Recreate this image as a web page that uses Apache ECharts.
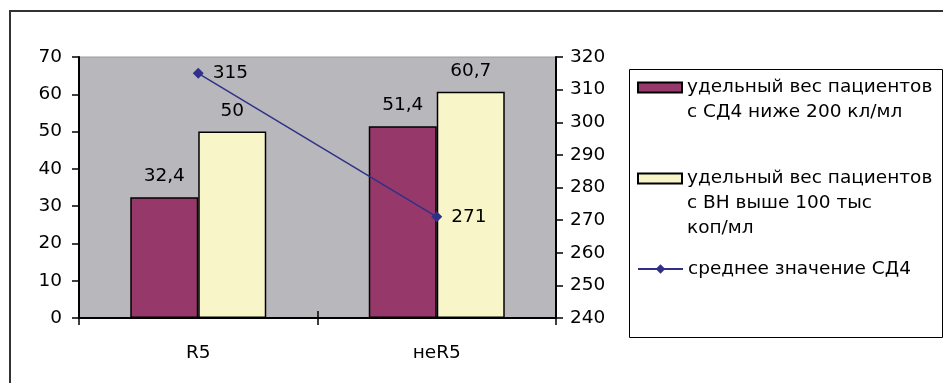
<!DOCTYPE html>
<html>
<head>
<meta charset="utf-8">
<script src="https://cdn.jsdelivr.net/npm/echarts@6/dist/echarts.min.js"></script>
<style>
html,body{margin:0;padding:0;background:#fff;}
#c{width:943px;height:383px;}
</style>
</head>
<body>
<div id="c"></div>
<script>
var categories = ['R5', 'неR5'];
var seriesNames = [
  'удельный вес пациентов с СД4 ниже 200 кл/мл',
  'удельный вес пациентов с ВН выше 100 тыс коп/мл',
  'среднее значение СД4'
];
var legendLines = [
  ['удельный вес пациентов', 'с СД4 ниже 200 кл/мл'],
  ['удельный вес пациентов', 'с ВН выше 100 тыс', 'коп/мл'],
  ['среднее значение СД4']
];
var cd4Below200 = [32.4, 51.4];
var vnAbove100k = [50, 60.7];
var meanCd4 = [315, 271];
var leftTicks = {min: 0, max: 70, interval: 10};
var rightTicks = {min: 240, max: 320, interval: 10};

var FONT = 'DejaVu Sans';
var FS = 18.5;
var LH = 25;
function comma(v) { return String(v).replace('.', ','); }

var chart = echarts.init(document.getElementById('c'));
var axisLineStyle = {color: '#000', width: 2};

function legendFor(i, top, opts) {
  var lines = legendLines[i];
  // prepend empty lines so the first text line is centred on the icon
  var txt = '';
  for (var k = 1; k < lines.length; k++) txt += ' \n';
  txt += lines.join('\n');
  return Object.assign({
    data: [seriesNames[i]],
    left: 637,
    top: top,
    orient: 'vertical',
    padding: 0,
    itemWidth: 44,
    itemHeight: 10,
    selectedMode: false,
    formatter: function () { return txt; },
    textStyle: {fontFamily: FONT, fontSize: FS, color: '#000', lineHeight: LH}
  }, opts || {});
}

chart.setOption({
  animation: false,
  textStyle: {fontFamily: FONT},
  grid: {
    left: 79, right: 387, top: 57, bottom: 65,
    show: true, backgroundColor: '#B8B8BC', borderColor: '#9A9A9E', borderWidth: 1
  },
  graphic: [
    {type: 'rect', shape: {x: 10, y: 11, width: 940, height: 380},
     style: {fill: 'none', stroke: '#333', lineWidth: 2}, silent: true},
    {type: 'rect', shape: {x: 629.5, y: 69.5, width: 313, height: 268},
     style: {fill: 'none', stroke: '#000', lineWidth: 1}, silent: true}
  ],
  legend: [
    legendFor(0, 50, {icon: 'rect'}),
    legendFor(1, 116, {icon: 'rect'}),
    legendFor(2, 256.5, {itemWidth: 45, itemHeight: 12})
  ],
  xAxis: [
    {
      type: 'category', data: categories, position: 'bottom',
      axisLine: {lineStyle: axisLineStyle},
      axisTick: {show: true, length: 7, lineStyle: {color: '#000', width: 1.5}},
      axisLabel: {color: '#000', fontSize: FS, fontFamily: FONT, margin: 26}
    },
    {
      type: 'category', data: categories, position: 'bottom',
      axisLine: {show: false},
      axisTick: {show: true, inside: true, length: 7, lineStyle: {color: '#000', width: 1.5}},
      axisLabel: {show: false}
    }
  ],
  yAxis: [
    {
      type: 'value', position: 'left',
      min: leftTicks.min, max: leftTicks.max, interval: leftTicks.interval,
      axisLine: {show: true, lineStyle: axisLineStyle},
      axisTick: {show: true, length: 7, lineStyle: {color: '#000', width: 1.5}},
      splitLine: {show: false},
      axisLabel: {color: '#000', fontSize: FS, fontFamily: FONT, margin: 17}
    },
    {
      type: 'value', position: 'right',
      min: rightTicks.min, max: rightTicks.max, interval: rightTicks.interval,
      axisLine: {show: true, lineStyle: axisLineStyle},
      axisTick: {show: true, length: 7, lineStyle: {color: '#000', width: 1.5}},
      splitLine: {show: false},
      axisLabel: {color: '#000', fontSize: FS, fontFamily: FONT, margin: 14}
    }
  ],
  series: [
    {
      name: seriesNames[0], type: 'bar', data: cd4Below200,
      xAxisIndex: 0, yAxisIndex: 0, barWidth: 68, barGap: '0%',
      itemStyle: {color: '#96386A', borderColor: '#000', borderWidth: 1.5},
      label: {show: true, position: 'top', distance: 12, color: '#000',
              fontSize: FS, fontFamily: FONT, formatter: function (p) { return comma(p.value); }}
    },
    {
      name: seriesNames[1], type: 'bar', data: vnAbove100k,
      xAxisIndex: 0, yAxisIndex: 0, barWidth: 68, barGap: '0%',
      itemStyle: {color: '#F8F6C8', borderColor: '#000', borderWidth: 1.5},
      label: {show: true, position: 'top', distance: 11, color: '#000',
              fontSize: FS, fontFamily: FONT, formatter: function (p) { return comma(p.value); }}
    },
    {
      name: seriesNames[2], type: 'line', data: meanCd4,
      xAxisIndex: 0, yAxisIndex: 1, z: 5,
      symbol: 'diamond', symbolSize: 11,
      lineStyle: {color: '#303088', width: 1.5},
      itemStyle: {color: '#303088'},
      label: {show: true, position: 'right', distance: 9, color: '#000',
              fontSize: FS, fontFamily: FONT}
    }
  ]
});
</script>
</body>
</html>
